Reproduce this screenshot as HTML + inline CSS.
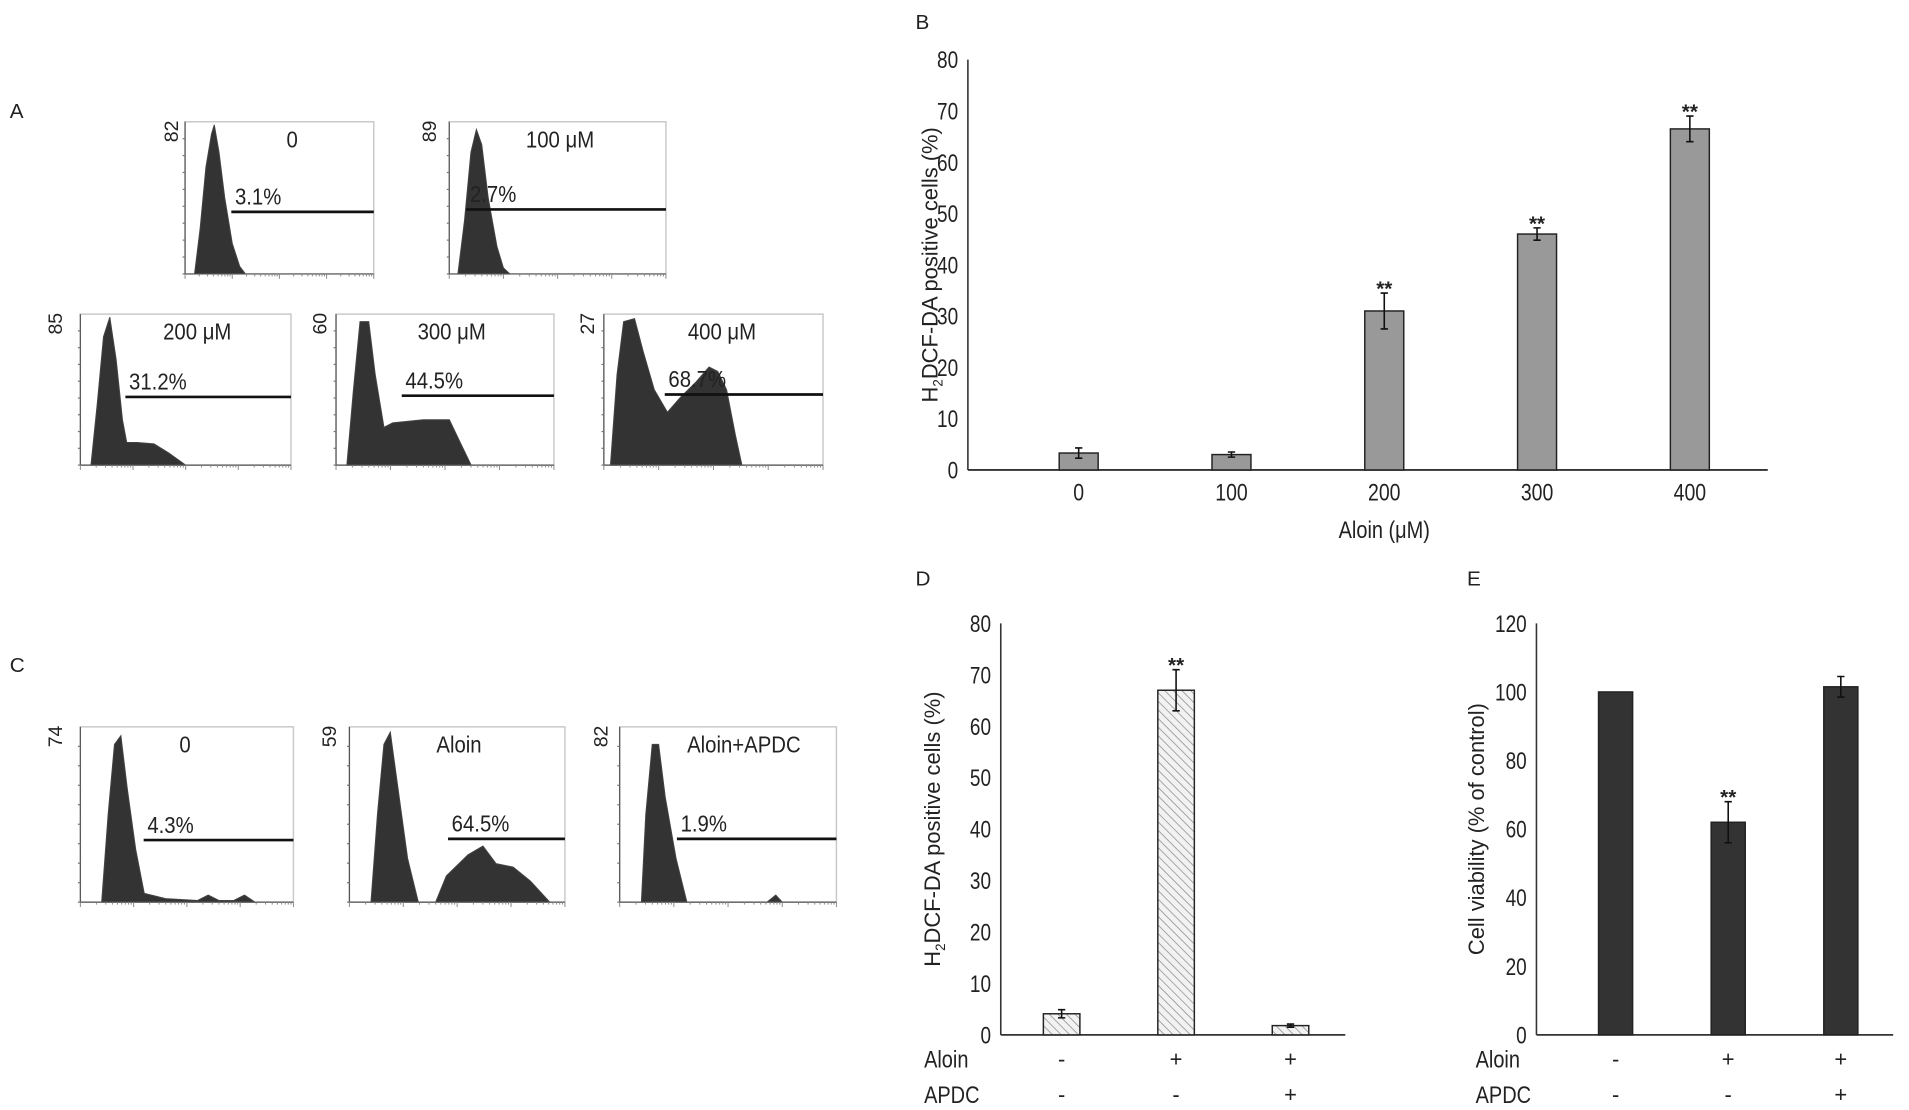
<!DOCTYPE html>
<html><head><meta charset="utf-8">
<style>
html,body{margin:0;padding:0;background:#fff;}
svg{display:block;font-family:"Liberation Sans",sans-serif;}
</style></head>
<body>
<svg id="fig" width="1909" height="1110" viewBox="0 0 1568 911.7" xmlns="http://www.w3.org/2000/svg">
<defs>
<pattern id="hatch" patternUnits="userSpaceOnUse" width="5" height="5" patternTransform="rotate(-45)">
<rect width="5" height="5" fill="#f2f2f2"/><line x1="0" y1="0" x2="0" y2="5" stroke="#999" stroke-width="1.4"/>
</pattern>
</defs>
<g id="root"></g>
</svg>
<script>
// ---------- Panel B data ----------
const bCategories = ["0","100","200","300","400"];
const bValues = [3.3, 3.0, 31.0, 46.0, 66.5];
const bErrors = [1.0, 0.5, 3.5, 1.2, 2.5];
const bSig = ["","","**","**","**"];
const bTicks = [0,10,20,30,40,50,60,70,80];
// ---------- Panel D data ----------
const dValues = [4.1, 67.0, 1.8];
const dErrors = [0.8, 4.0, 0.3];
const dSig = ["","**",""];
const dTicks = [0,10,20,30,40,50,60,70,80];
// ---------- Panel E data ----------
const eValues = [100, 62, 101.5];
const eErrors = [0, 6, 3];
const eSig = ["","**",""];
const eTicks = [0,20,40,60,80,100,120];
const aloinRow = ["-","+","+"];
const apdcRow = ["-","-","+"];
// ---------- Histogram data (fraction of x range, fraction of peak) ----------
const histLabels = ["0","100 μM","200 μM","300 μM","400 μM","0","Aloin","Aloin+APDC"];
const histPercents = ["3.1%","2.7%","31.2%","44.5%","68.7%","4.3%","64.5%","1.9%"];
const histMaxCounts = ["82","89","85","60","27","74","59","82"];
const hist0 = [[0.05,0],[0.08,0.3],[0.11,0.7],[0.14,0.92],[0.155,0.98],[0.18,0.8],[0.21,0.5],[0.25,0.2],[0.29,0.05],[0.32,0]];
const hist100 = [[0.04,0],[0.07,0.35],[0.1,0.8],[0.125,0.95],[0.15,0.85],[0.18,0.5],[0.22,0.18],[0.25,0.04],[0.28,0]];
const hist200 = [[0.05,0],[0.08,0.4],[0.11,0.85],[0.14,0.98],[0.17,0.7],[0.2,0.3],[0.22,0.15],[0.27,0.15],[0.35,0.14],[0.42,0.08],[0.5,0]];
const hist300 = [[0.05,0],[0.08,0.5],[0.11,0.95],[0.15,0.95],[0.18,0.6],[0.22,0.25],[0.26,0.28],[0.4,0.3],[0.52,0.3],[0.57,0.15],[0.62,0]];
const hist400 = [[0.03,0],[0.06,0.6],[0.09,0.95],[0.14,0.97],[0.18,0.75],[0.23,0.5],[0.29,0.35],[0.35,0.45],[0.42,0.55],[0.48,0.65],[0.52,0.62],[0.56,0.5],[0.6,0.2],[0.63,0]];
const histC0 = [[0.1,0],[0.13,0.5],[0.16,0.9],[0.19,0.95],[0.22,0.65],[0.26,0.3],[0.3,0.05],[0.4,0.02],[0.55,0.01],[0.6,0.04],[0.65,0.01],[0.72,0.01],[0.77,0.04],[0.82,0]];
const histC1 = [[0.1,0],[0.13,0.5],[0.16,0.9],[0.19,0.97],[0.22,0.7],[0.27,0.25],[0.32,0],[0.4,0],[0.45,0.15],[0.55,0.27],[0.62,0.32],[0.68,0.22],[0.76,0.2],[0.84,0.12],[0.93,0]];
const histC2 = [[0.1,0],[0.12,0.5],[0.15,0.9],[0.18,0.9],[0.21,0.6],[0.26,0.25],[0.31,0],[0.68,0],[0.72,0.04],[0.75,0]];
const histShapes = [hist0,hist100,hist200,hist300,hist400,histC0,histC1,histC2];

// layout (viewBox units)
const histBoxes = [
 {l:152,r:307,t:100,b:225,gate:174,gx:190,lx:140,tx:240},
 {l:369,r:547,t:100,b:225,gate:172,gx:383,lx:352,tx:460},
 {l:66,r:239,t:258,b:382,gate:326,gx:103,lx:45,tx:162},
 {l:276,r:455,t:258,b:382,gate:325,gx:330,lx:262,tx:371},
 {l:496,r:676,t:258,b:382,gate:324,gx:546,lx:482,tx:593},
 {l:66,r:241,t:597,b:741,gate:690,gx:118,lx:45,tx:152},
 {l:287,r:464,t:597,b:741,gate:689,gx:368,lx:270,tx:377},
 {l:509,r:687,t:597,b:741,gate:689,gx:556,lx:493,tx:611}
];

const NS="http://www.w3.org/2000/svg";
const root=document.getElementById('root');
function mk(tag,attrs,parent,text){const e=document.createElementNS(NS,tag);for(const k in attrs)e.setAttribute(k,attrs[k]);if(text!==undefined)e.textContent=text;(parent||root).appendChild(e);return e;}
// condensed text helper
function ctext(x,y,size,anchor,str,parent,sx){return mk('text',{x:0,y:0,'font-size':size,fill:'#222','text-anchor':anchor,transform:`translate(${x},${y}) scale(${sx||0.82},1)`},parent,str);}

// panel letters
[["A",8,97],["B",752,24],["C",8,552],["D",752,481],["E",1205,481]].forEach(p=>{
 const t=mk('text',{x:p[1],y:p[2],'font-size':17,fill:'#222'},root,p[0]);
 
 
});

// histograms
histBoxes.forEach((bx,i)=>{
 const g=mk('g',{});
 
 
 const w=bx.r-bx.l,h=bx.b-bx.t;
 mk('rect',{x:bx.l,y:bx.t,width:w,height:h,fill:'none',stroke:'#c8c8c8','stroke-width':1.2},g);
 const pts=histShapes[i].map(p=>(bx.l+p[0]*w).toFixed(1)+','+(bx.b-p[1]*h).toFixed(1)).join(' ');
 const poly=mk('polygon',{points:pts,fill:'#333',stroke:'#444','stroke-width':0.8},g);
 
 
 mk('line',{x1:bx.l,y1:bx.t,x2:bx.l,y2:bx.b,stroke:'#555','stroke-width':1},g);
 mk('line',{x1:bx.l,y1:bx.b,x2:bx.r,y2:bx.b,stroke:'#555','stroke-width':1},g);
 for(let k=0;k<=8;k++){mk('line',{x1:bx.l-2,x2:bx.l,y1:bx.b-k*h/9,y2:bx.b-k*h/9,stroke:'#777','stroke-width':1},g);}
 for(let d=0;d<4;d++){for(let m=1;m<=9;m++){const x=bx.l+(d+Math.log10(m))*w/4;mk('line',{x1:x,x2:x,y1:bx.b,y2:bx.b+(m==1?4:2),stroke:'#888','stroke-width':0.8},g);}}
 mk('line',{x1:bx.r,x2:bx.r,y1:bx.b,y2:bx.b+4,stroke:'#888','stroke-width':0.8},g);
 const gl=mk('line',{x1:bx.gx,x2:bx.r,y1:bx.gate,y2:bx.gate,stroke:'#111','stroke-width':2.2},g);
 
 
 const pt=ctext(bx.gx+3,bx.gate-6,19,'start',histPercents[i],g,0.88);
 
 
 const tt=ctext(bx.tx,bx.t+21,19,'middle',histLabels[i],g,0.88);
 
 
 const mc=mk('text',{x:0,y:0,'font-size':16,fill:'#222','text-anchor':'end',transform:`translate(${bx.lx+6},${bx.t-1}) rotate(-90)`},g,histMaxCounts[i]);
 
 
});

// generic bar chart
function barChart(cfg){
 const g=mk('g',{});
 
 
 const ymax=cfg.ticks[cfg.ticks.length-1];
 const Y=v=>cfg.y0-(v/ymax)*(cfg.y0-cfg.y1);
 const X=i=>cfg.x0+i*cfg.step;
 mk('line',{x1:cfg.ax,y1:cfg.y1,x2:cfg.ax,y2:cfg.y0,stroke:'#333','stroke-width':1.3},g);
 mk('line',{x1:cfg.ax,y1:cfg.y0,x2:cfg.axEnd,y2:cfg.y0,stroke:'#333','stroke-width':1.5},g);
 cfg.ticks.forEach(t=>{
  const tl=ctext(cfg.ax-8,Y(t)+7,20,'end',String(t),g,0.78);
  
  
 });
 cfg.values.forEach((v,i)=>{
  const bw=cfg.bw,x=X(i);
  const r=mk('rect',{x:x-bw/2,y:Y(v),width:bw,height:cfg.y0-Y(v),fill:cfg.fill,stroke:'#222','stroke-width':1.2},g);
  
  
  const e=cfg.errors[i];
  if(e>0){
   const eb=mk('path',{d:`M${x},${Y(v+e)}V${Y(v-e)}M${x-3},${Y(v+e)}H${x+3}M${x-3},${Y(v-e)}H${x+3}`,stroke:'#111','stroke-width':1.3,fill:'none'},g);
   
   
  }
  if(cfg.sig[i]){
   const s=mk('text',{x:x,y:Y(v+e)+2,'font-size':17,'font-weight':'bold',fill:'#222','text-anchor':'middle'},g,cfg.sig[i]);
   
   
  }
  if(cfg.cats){
   const c=ctext(x,cfg.y0+25,20,'middle',cfg.cats[i],g,0.8);
   
   
  }
  if(cfg.rows){
   cfg.rows.forEach((row,ri)=>{
    const c=mk('text',{x:x,y:cfg.y0+26+ri*29,'font-size':18,fill:'#222','text-anchor':'middle'},g,row.vals[i]);
    
    
   });
  }
 });
 if(cfg.rows){cfg.rows.forEach((row,ri)=>{
  const c=ctext(cfg.rowX,cfg.y0+27+ri*29,20,'start',row.label,g,0.82);
  
  
 });}
 const yl=mk('text',{x:0,y:0,'font-size':18,fill:'#222','text-anchor':'middle',transform:`translate(${cfg.ylx},${(cfg.y0+cfg.y1)/2}) rotate(-90)`},g);
 
 
 if(cfg.h2){
  mk('tspan',{},yl,'H');mk('tspan',{'font-size':11,dy:4},yl,'2');mk('tspan',{dy:-4},yl,'DCF-DA  positive cells (%)');
 } else yl.textContent=cfg.ytitle;
 if(cfg.xtitle){
  const xt=ctext(cfg.xtx,cfg.y0+56,20,'middle',cfg.xtitle,g,0.82);
  
  
 }
}

barChart({name:'chart-b',ax:795,axEnd:1452,y0:386,y1:49,x0:886,step:125.5,bw:32,ticks:bTicks,values:bValues,errors:bErrors,sig:bSig,cats:bCategories,fill:'#999',ylx:770,h2:true,xtitle:'Aloin (μM)',xtx:1137});
barChart({name:'chart-d',ax:822,axEnd:1105,y0:850,y1:512,x0:872,step:94,bw:30,ticks:dTicks,values:dValues,errors:dErrors,sig:dSig,fill:'url(#hatch)',ylx:772,h2:true,rows:[{label:'Aloin',vals:aloinRow},{label:'APDC',vals:apdcRow}],rowX:759});
barChart({name:'chart-e',ax:1262,axEnd:1555,y0:850,y1:512,x0:1327,step:92.5,bw:28,ticks:eTicks,values:eValues,errors:eErrors,sig:eSig,fill:'#333',ylx:1219,ytitle:'Cell viability (% of control)',rows:[{label:'Aloin',vals:aloinRow},{label:'APDC',vals:apdcRow}],rowX:1212});
</script>
</body></html>
